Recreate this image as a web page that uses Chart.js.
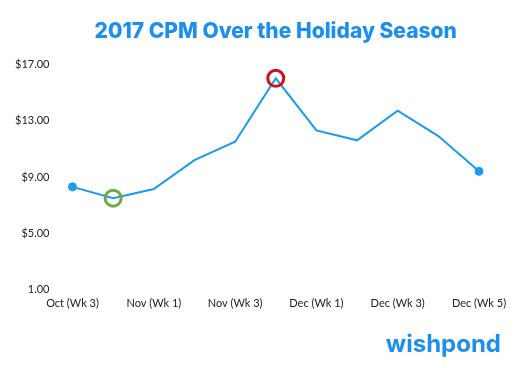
<!DOCTYPE html>
<html>
<head>
<meta charset="utf-8">
<script src="https://cdn.jsdelivr.net/npm/chart.js@4"></script>
<style>
    html, body { margin: 0; padding: 0; background: #fff; }
    #wrap { width: 519px; height: 368px; }
</style>
</head>
<body>
<div id="wrap"><canvas id="cpm_chart"></canvas></div>
<script>
const weeks = ["Oct (Wk 3)", "Oct (Wk 4)", "Nov (Wk 1)", "Nov (Wk 2)", "Nov (Wk 3)", "Nov (Wk 4)",
    "Dec (Wk 1)", "Dec (Wk 2)", "Dec (Wk 3)", "Dec (Wk 4)", "Dec (Wk 5)"];
const cpm = [8.3, 7.5, 8.15, 10.2, 11.5, 16.0, 12.3, 11.6, 13.7, 11.9, 9.4];
const yTicks = [1, 5, 9, 13, 17];

const lineBlue = "#1a9bf0";
const lowIdx = 1, highIdx = 5, lastIdx = cpm.length - 1;

const radius = cpm.map((v, i) => (i === lowIdx || i === highIdx) ? 8 : (i === 0 || i === lastIdx) ? 4 : 0);
const borderCol = cpm.map((v, i) => i === lowIdx ? "#6aab46" : i === highIdx ? "#d0101b" : lineBlue);
const fillCol = cpm.map((v, i) => (i === lowIdx || i === highIdx) ? "rgba(0,0,0,0)" : lineBlue);
const borderW = cpm.map((v, i) => (i === lowIdx || i === highIdx) ? 3 : 1);

const logoPlugin = {
    id: "logo",
    afterDraw(chart) {
        const c = chart.ctx;
        c.save();
        c.font = "bold 24px Inter";
        c.fillStyle = "#1a8ff0";
        c.textAlign = "right";
        c.textBaseline = "alphabetic";
        c.fillText("wishpond", 501, 352);
        c.restore();
    }
};

document.addEventListener("DOMContentLoaded", function () {
    const ctx = document.getElementById("cpm_chart").getContext("2d");
    new Chart(ctx, {
        type: 'line',
        data: {
            labels: weeks,
            datasets: [{
                data: cpm,
                borderColor: lineBlue,
                borderWidth: 2,
                tension: 0,
                pointRadius: radius,
                pointBorderColor: borderCol,
                pointBackgroundColor: fillCol,
                pointBorderWidth: borderW,
                pointHoverRadius: radius
            }]
        },
        options: {
            responsive: true,
            maintainAspectRatio: false,
            animation: false,
            layout: {
                padding: { left: -8, right: 40, top: 6, bottom: 51 }
            },
            plugins: {
                legend: { display: false },
                tooltip: { enabled: false },
                title: {
                    display: true,
                    text: "2017 CPM Over the Holiday Season",
                    color: "#1a8ff0",
                    fullSize: false,
                    font: { family: "Inter", size: 21, weight: '800' },
                    padding: { top: 13, bottom: 20 }
                }
            },
            scales: {
                x: {
                    offset: false,
                    border: { display: false },
                    grid: { display: false, tickLength: 0 },
                    ticks: {
                        autoSkip: false,
                        maxRotation: 0,
                        color: "#222",
                        padding: 7,
                        font: { family: "Lato", size: 11 },
                        callback: function (value, index) {
                            return index % 2 === 0 ? weeks[index] : "";
                        }
                    }
                },
                y: {
                    min: 1,
                    max: 17,
                    afterBuildTicks: function (axis) {
                        axis.ticks = yTicks.map(v => ({ value: v }));
                    },
                    border: { display: false },
                    grid: { display: false, tickLength: 0 },
                    ticks: {
                        color: "#222",
                        padding: 23,
                        font: { family: "Lato", size: 11 },
                        callback: function (value) {
                            return value === 1 ? "1.00" : "$" + value.toFixed(2);
                        }
                    }
                }
            }
        },
        plugins: [logoPlugin]
    });
});
</script>
</body>
</html>
